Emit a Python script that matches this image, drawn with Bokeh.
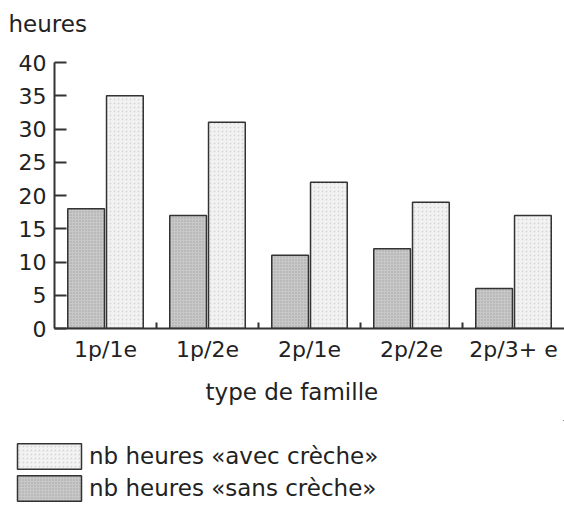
from bokeh.plotting import figure
from bokeh.layouts import column, row
from bokeh.models import (Range1d, LinearAxis, FixedTicker,
                          Legend, LegendItem, Title, ColumnDataSource)
from bokeh.transform import dodge
from bokeh.embed import file_html
from bokeh.resources import INLINE

categories = ["1p/1e", "1p/2e", "2p/1e", "2p/2e", "2p/3+ e"]
sans_creche = [18, 17, 11, 12, 6]
avec_creche = [35, 31, 22, 19, 17]
y_ticks = [0, 5, 10, 15, 20, 25, 30, 35, 40]
label_avec = "nb heures «avec crèche»"
label_sans = "nb heures «sans crèche»"
y_title = "heures"
x_title = "type de famille"

FONT = "DejaVu Sans"
TXT = "#222222"
LINE = "#333333"

SANS_STYLE = dict(fill_color="#c8c8c8", line_color=LINE, line_width=1.5,
                  hatch_pattern="dot", hatch_color="#888888", hatch_scale=3, hatch_alpha=0.6)
AVEC_STYLE = dict(fill_color="#f2f2f2", line_color=LINE, line_width=1.5,
                  hatch_pattern="dot", hatch_color="#bbbbbb", hatch_scale=4, hatch_alpha=0.5)

n = len(categories)
centers = [i + 0.5 for i in range(n)]
boundaries = list(range(1, n))

src = ColumnDataSource(dict(pos=centers, sans=sans_creche, avec=avec_creche))


def bare(fig):
    fig.outline_line_color = None
    fig.xgrid.visible = False
    fig.ygrid.visible = False
    fig.background_fill_color = "white"
    fig.border_fill_color = "white"


# top strip: y-axis unit title (frame aligned with the main chart's frame)
p0 = figure(x_range=Range1d(0, 1), y_range=Range1d(0, 1), width=564, height=45,
            output_backend="svg", toolbar_location=None,
            x_axis_location=None, y_axis_location=None, min_border=0)
bare(p0)
p0.title.text = y_title
p0.title.align = "left"
p0.title.offset = -46
p0.title.text_font = FONT
p0.title.text_font_size = "23px"
p0.title.text_font_style = "normal"
p0.title.text_color = TXT
p0.title.standoff = 16

# main chart
p = figure(x_range=Range1d(0, n), y_range=Range1d(0, 40),
           width=564, height=375, output_backend="svg", toolbar_location=None,
           x_axis_location=None, min_border_left=54, min_border_right=0,
           min_border_top=17, min_border_bottom=92)
bare(p)

p.vbar(x=dodge("pos", -0.19), top="sans", width=0.36, source=src, **SANS_STYLE)
p.vbar(x=dodge("pos", 0.19), top="avec", width=0.36, source=src, **AVEC_STYLE)

# boundary ticks axis (at baseline)
bax = LinearAxis(ticker=FixedTicker(ticks=boundaries),
                 major_tick_in=6, major_tick_out=0, minor_tick_in=0, minor_tick_out=0,
                 major_label_overrides={b: "" for b in boundaries},
                 major_label_text_font_size="0px", major_label_standoff=0,
                 axis_line_width=2, axis_line_color=LINE,
                 major_tick_line_width=2, major_tick_line_color=LINE)
p.add_layout(bax, "below")

cax = LinearAxis(ticker=FixedTicker(ticks=centers),
                 major_label_overrides={c: lab for c, lab in zip(centers, categories)},
                 axis_line_color=None, major_tick_line_color=None,
                 minor_tick_line_color=None,
                 major_label_text_font=FONT, major_label_text_font_size="22px",
                 major_label_text_color=TXT, major_label_standoff=2)
p.add_layout(cax, "below")

xt = Title(text=x_title, align="left", offset=151, text_font=FONT, text_font_size="23px",
           text_font_style="normal", text_color=TXT, standoff=24)
p.add_layout(xt, "below")

yax = p.yaxis[0]
yax.ticker = FixedTicker(ticks=y_ticks)
yax.major_tick_in = 12
yax.major_tick_out = 0
yax.minor_tick_in = 0
yax.minor_tick_out = 0
yax.axis_line_width = 2
yax.axis_line_color = LINE
yax.major_tick_line_width = 2
yax.major_tick_line_color = LINE
yax.major_label_text_font = FONT
yax.major_label_text_font_size = "22px"
yax.major_label_text_color = TXT
yax.major_label_standoff = 8

# legend strip (its bars lie outside its visible ranges; only the legend shows)
p2 = figure(x_range=Range1d(-2 * n, -n), y_range=Range1d(-80, -40), width=564, height=84,
            output_backend="svg", toolbar_location=None,
            x_axis_location=None, y_axis_location=None, min_border=0)
bare(p2)
l_avec = p2.vbar(x=dodge("pos", 0.19), top="avec", width=0.36, source=src, **AVEC_STYLE)
l_sans = p2.vbar(x=dodge("pos", -0.19), top="sans", width=0.36, source=src, **SANS_STYLE)

legend = Legend(items=[LegendItem(label=label_avec, renderers=[l_avec]),
                       LegendItem(label=label_sans, renderers=[l_sans])],
                location=(9, 0), orientation="vertical",
                glyph_width=80, glyph_height=32, label_height=32, spacing=0,
                label_standoff=0, padding=0, margin=0,
                border_line_color=None, background_fill_alpha=0,
                label_text_font=FONT, label_text_font_size="23px", label_text_color=TXT)
p2.add_layout(legend, "center")

open("out.html", "w").write(file_html(column(p0, p, row(p2)), INLINE))
